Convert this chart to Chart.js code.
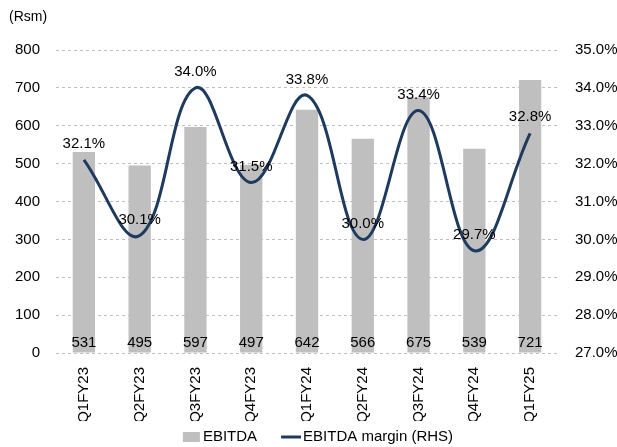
<!DOCTYPE html>
<html>
<head>
<meta charset="utf-8">
<script src="https://cdn.jsdelivr.net/npm/chart.js@4.4.1/dist/chart.umd.min.js"></script>
<style>
  html, body { margin: 0; padding: 0; background: #ffffff; }
  #wrap { width: 617px; height: 447px; position: relative; }
</style>
</head>
<body>
<div id="wrap"><canvas id="ebitda-chart"></canvas></div>
<script>
// data
var quarters = ['Q1FY23', 'Q2FY23', 'Q3FY23', 'Q4FY23', 'Q1FY24', 'Q2FY24', 'Q3FY24', 'Q4FY24', 'Q1FY25'];
var ebitda = [531, 495, 597, 497, 642, 566, 675, 539, 721];
var margin = [32.1, 30.1, 34.0, 31.5, 33.8, 30.0, 33.4, 29.7, 32.8];
var leftTicks = [0, 100, 200, 300, 400, 500, 600, 700, 800];
var rightTicks = [27, 28, 29, 30, 31, 32, 33, 34, 35];

var FONT = "'Liberation Sans', Arial, sans-serif";
var navy = '#1f3a5f';
var grey = '#bfbfbf';

Chart.defaults.font.family = FONT;
Chart.defaults.font.size = 15;
Chart.defaults.color = '#000000';

// labels for bars (at the bottom) and for the line (above each point)
var valueLabels = {
    id: 'valueLabels',
    afterDatasetsDraw: function(chart) {
        var ctx = chart.ctx;
        ctx.save();
        ctx.font = '15px ' + FONT;
        ctx.fillStyle = '#000000';
        ctx.textAlign = 'center';
        ctx.textBaseline = 'alphabetic';
        var bottom = chart.chartArea.bottom;
        chart.getDatasetMeta(0).data.forEach(function(bar, i) {
            ctx.fillText(ebitda[i], bar.x, bottom - 6);
        });
        ctx.textBaseline = 'middle';
        chart.getDatasetMeta(1).data.forEach(function(pt, i) {
            ctx.fillText(margin[i].toFixed(1) + '%', pt.x, pt.y - 16);
        });
        // unit caption
        ctx.textAlign = 'left';
        ctx.font = '14px ' + FONT;
        ctx.fillText('(Rsm)', 9, 17);
        ctx.restore();
    }
};

// legend drawn by hand: grey box for the bars, short line for the margin
var bottomLegend = {
    id: 'bottomLegend',
    afterDraw: function(chart) {
        var ctx = chart.ctx;
        var names = chart.data.datasets.map(function(d) { return d.label; });
        ctx.save();
        ctx.font = '15px ' + FONT;
        ctx.textBaseline = 'middle';
        ctx.textAlign = 'left';
        var w0 = ctx.measureText(names[0]).width;
        var w1 = ctx.measureText(names[1]).width;
        var total = 17 + 3 + w0 + 24 + 20 + 2 + w1;
        var x = 318 - total / 2;
        var y = 437;
        ctx.fillStyle = grey;
        ctx.fillRect(x, y - 5, 17, 10);
        x += 20;
        ctx.fillStyle = '#000000';
        ctx.fillText(names[0], x, y);
        x += w0 + 24;
        ctx.strokeStyle = navy;
        ctx.lineWidth = 3;
        ctx.beginPath();
        ctx.moveTo(x, y);
        ctx.lineTo(x + 20, y);
        ctx.stroke();
        x += 22;
        ctx.fillText(names[1], x, y);
        ctx.restore();
    }
};

new Chart(document.getElementById('ebitda-chart').getContext('2d'), {
    type: 'bar',
    data: {
        labels: quarters,
        datasets: [{
            label: 'EBITDA',
            data: ebitda,
            backgroundColor: grey,
            barPercentage: 0.4,
            categoryPercentage: 1.0,
            yAxisID: 'y',
            order: 2
        }, {
            type: 'line',
            label: 'EBITDA margin (RHS)',
            data: margin,
            borderColor: navy,
            backgroundColor: navy,
            borderWidth: 3,
            pointRadius: 0,
            tension: 0.4,
            fill: false,
            yAxisID: 'y1',
            order: 1
        }]
    },
    options: {
        responsive: true,
        maintainAspectRatio: false,
        animation: false,
        layout: {
            padding: { top: 50, left: 0, right: 0, bottom: 26 }
        },
        plugins: {
            legend: { display: false },
            tooltip: { enabled: false }
        },
        scales: {
            x: {
                grid: { display: false },
                border: { display: false },
                ticks: { minRotation: 90, maxRotation: 90, padding: 6, font: { size: 15 } },
                afterFit: function(scale) { scale.height = 68; }
            },
            y: {
                position: 'left',
                min: 0,
                max: 800,
                afterBuildTicks: function(scale) {
                    scale.ticks = leftTicks.map(function(v) { return { value: v }; });
                },
                grid: { color: grey, drawTicks: false },
                border: { display: false, dash: [3, 3] },
                ticks: { padding: 16, font: { size: 15 } },
                afterFit: function(scale) { scale.width = 56; }
            },
            y1: {
                position: 'right',
                min: 27,
                max: 35,
                afterBuildTicks: function(scale) {
                    scale.ticks = rightTicks.map(function(v) { return { value: v }; });
                },
                grid: { display: false, drawTicks: false },
                border: { display: false },
                ticks: {
                    padding: 17,
                    font: { size: 15 },
                    callback: function(v) { return v.toFixed(1) + '%'; }
                },
                afterFit: function(scale) { scale.width = 59; }
            }
        }
    },
    plugins: [valueLabels, bottomLegend]
});
</script>
</body>
</html>
